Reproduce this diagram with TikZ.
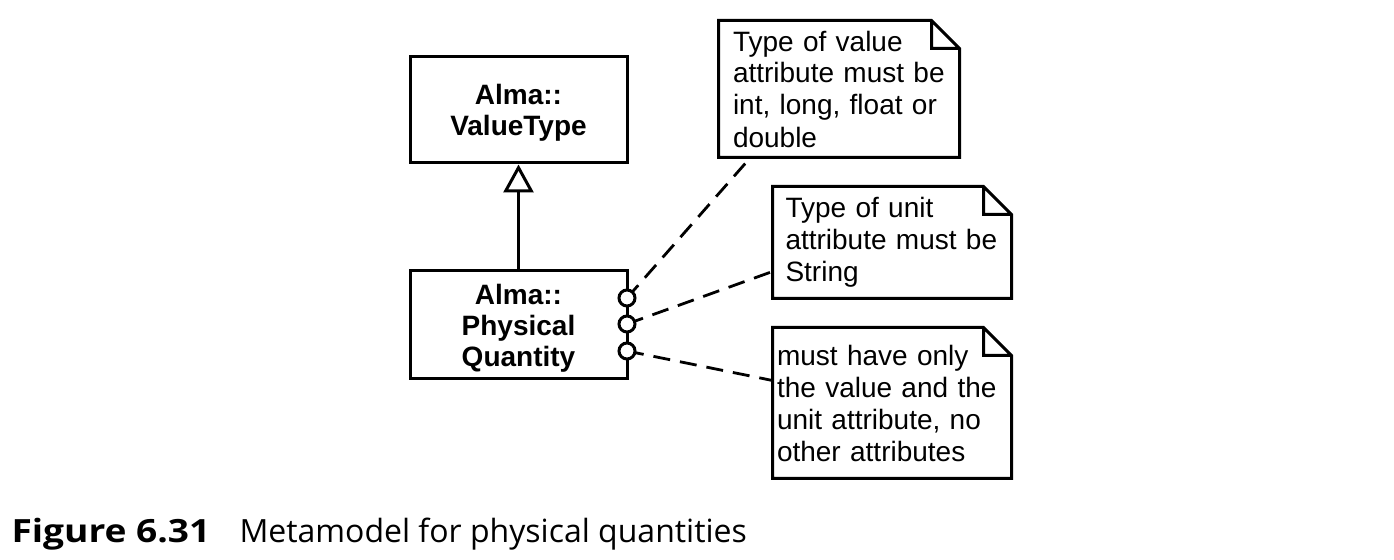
\documentclass[tikz,border=0pt]{standalone}
\usepackage{fontspec}
\setmainfont{Liberation Sans}
\newfontfamily\captionfont[BoldFeatures={FakeStretch=1.16}]{Open Sans}
\usetikzlibrary{arrows.meta,calc,positioning}
\tikzset{
    class/.style={draw, rectangle, minimum width=108.5pt, align=center,
        font=\fontsize{14}{15.5}\selectfont\bfseries},
    note/.style={rectangle, text width=#1, align=left, inner xsep=0pt,
        font=\fontsize{14}{16}\selectfont}, % outline is drawn by \notefold
    port/.style={draw, circle, minimum size=8pt, inner sep=0pt, fill=white},
    constraint/.style={dash pattern=on 8.5pt off 5pt, line width=1.4pt},
    generalization/.style={-{Triangle[open, width=15pt, length=14pt]}},
}
% rectangle with a dog-eared top right corner round a note node
\newcommand{\notefold}[1]{%
  \draw (#1.north west) -- ([xshift=-14pt]#1.north east) -- ([yshift=-14pt]#1.north east)
        -- (#1.south east) -- (#1.south west) -- cycle
        ([xshift=-14pt]#1.north east) |- ([yshift=-14pt]#1.north east);
}

\begin{document}
\begin{tikzpicture}[x=0.5pt, y=-0.5pt, line width=1.5pt]
  \useasboundingbox (0,0) rectangle (1394,560);

  % classes
  \node[class, minimum height=53pt] (value_type) at (518.5,110) {\rule{0pt}{13pt}Alma::\\ValueType};
  \node[class, minimum height=54pt] (phys_qty)   at (518.5,325) {\rule{0pt}{13pt}Alma::\\Physical\\Quantity};
  \draw[generalization] (phys_qty) -- (value_type);

  % constraint notes
  \node[note=106pt, minimum width=119pt, minimum height=67pt] (note_1) at (839,89)
    {Type of value\\attribute must be\\int, long, float or\\double};
  \node[note=106.5pt, minimum width=118pt, minimum height=54.5pt] (note_2) at (892,242.5)
    {Type of unit\\attribute must be\\String};
  \node[note=115pt, minimum width=118pt, minimum height=74pt] (note_3) at (892,403)
    {must have only\\the value and the\\unit attribute, no\\other attributes};
  \notefold{note_1}
  \notefold{note_2}
  \notefold{note_3}

  % anchors of the constraints on the class
  \coordinate (c_1) at (627,298);
  \coordinate (c_2) at (627,324);
  \coordinate (c_3) at (627,351);
  \path[constraint]
    (c_1) edge ([xshift=16pt]note_1.south west)
    (c_2) edge ([yshift=13.5pt]note_2.south west)
    (c_3) edge ([yshift=-26.5pt]note_3.north west);
  \node[port] (p_1) at (c_1) {};
  \node[port] (p_2) at (c_2) {};
  \node[port] (p_3) at (c_3) {};

  % caption
  \node[anchor=base west, inner sep=0pt, font=\captionfont\fontsize{16}{18}\selectfont\bfseries]
    (fig_num) at (10,543) {Figure 6.31};
  \node[anchor=base west, inner sep=0pt, font=\captionfont\fontsize{16}{18}\selectfont]
    (fig_title) at (238,543) {Metamodel for physical quantities};
\end{tikzpicture}
\end{document}
